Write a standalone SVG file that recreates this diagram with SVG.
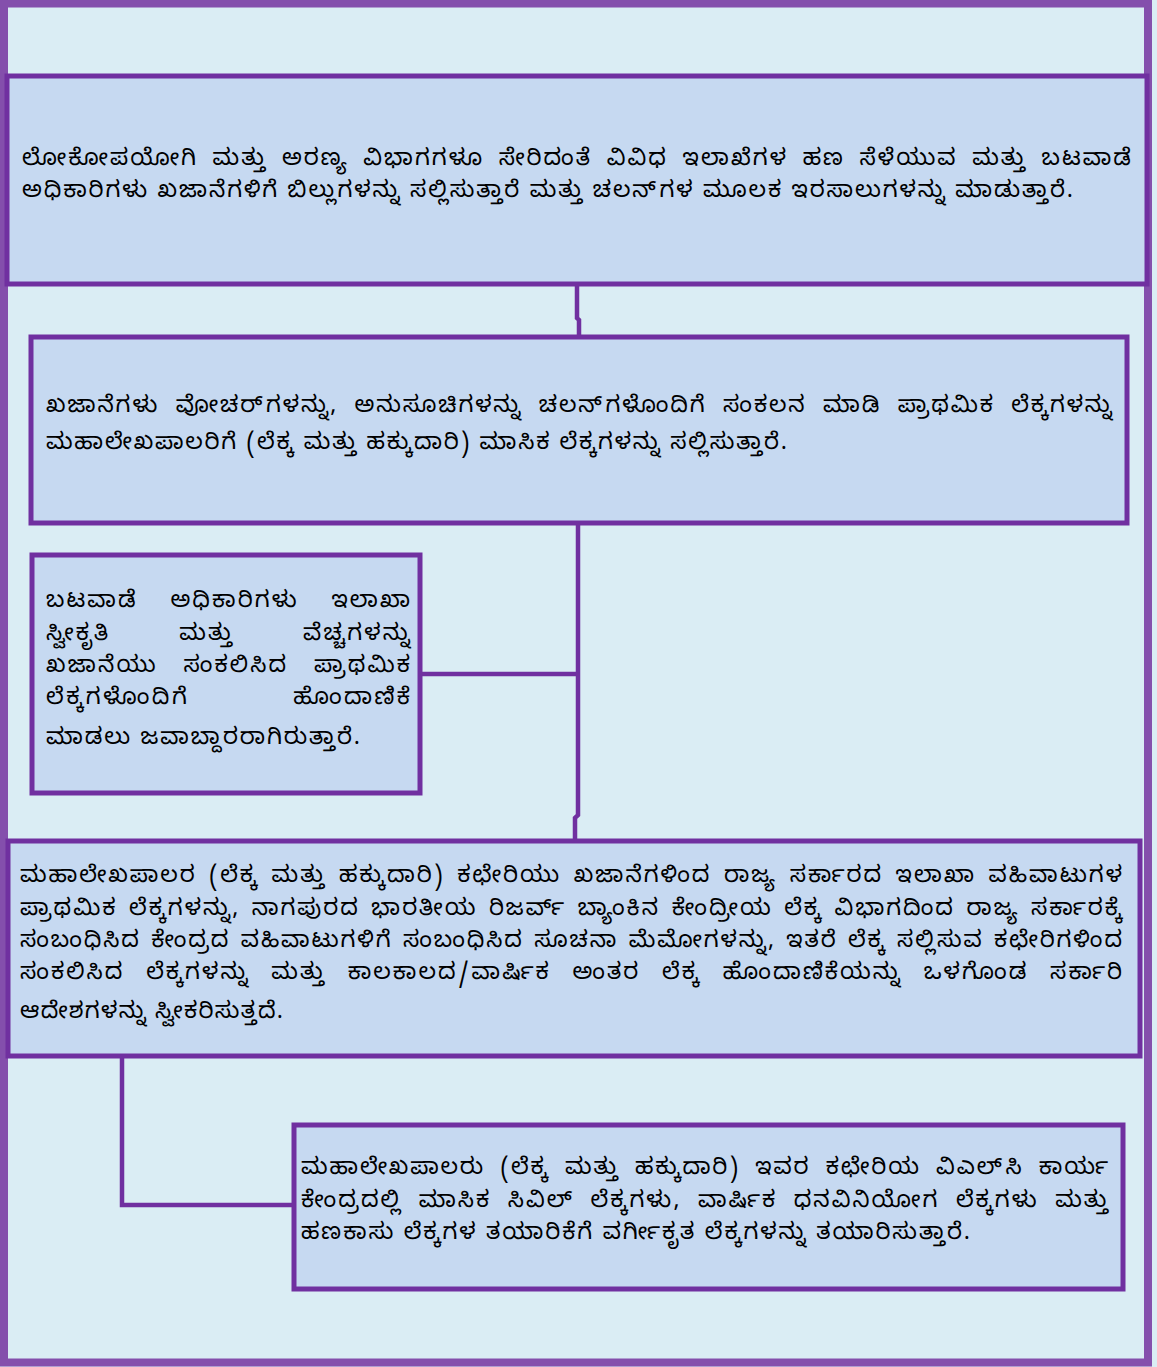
<svg xmlns="http://www.w3.org/2000/svg" width="1157" height="1367" viewBox="0 0 1157 1367">
<style>
.bg{fill:#daedf4}
.frame{fill:none;stroke:#844fac;stroke-width:8}
.box{fill:#c6d9f1;stroke:#7030a0;stroke-width:5}
.con{fill:none;stroke:#7030a0;stroke-width:4.5}
.t{font-family:"Noto Sans Kannada","Lohit Kannada","Tunga","Noto Sans",sans-serif;font-size:23px;fill:#000}
</style>
<rect class="bg" x="0" y="0" width="1157" height="1367"/>
<rect class="frame" x="4" y="3.5" width="1144" height="1359"/>
<g id="connectors">
<path class="con" d="M577,286 V318 L579,320 V336"/>
<path class="con" d="M578,523 V815 L575,818 V840"/>
<path class="con" d="M420,674 H578"/>
<path class="con" d="M122,1056 V1205 H294"/>
</g>
<g id="n1">
<rect class="box" x="7" y="76" width="1140" height="208"/>
<text class="t" x="22" y="165" style="word-spacing:6px" textLength="1109" lengthAdjust="spacing">ಲೋಕೋಪಯೋಗಿ ಮತ್ತು ಅರಣ್ಯ ವಿಭಾಗಗಳೂ ಸೇರಿದಂತೆ ವಿವಿಧ ಇಲಾಖೆಗಳ ಹಣ ಸೆಳೆಯುವ ಮತ್ತು ಬಟವಾಡೆ</text>
<text class="t" x="22" y="197" textLength="1051" lengthAdjust="spacing">ಅಧಿಕಾರಿಗಳು ಖಜಾನೆಗಳಿಗೆ ಬಿಲ್ಲುಗಳನ್ನು ಸಲ್ಲಿಸುತ್ತಾರೆ ಮತ್ತು ಚಲನ್&#x200C;ಗಳ ಮೂಲಕ ಇರಸಾಲುಗಳನ್ನು ಮಾಡುತ್ತಾರೆ.</text>
</g>
<g id="n2">
<rect class="box" x="31" y="337" width="1096" height="186"/>
<text class="t" x="46" y="412" style="word-spacing:8px" textLength="1066" lengthAdjust="spacing">ಖಜಾನೆಗಳು ವೋಚರ್&#x200C;ಗಳನ್ನು, ಅನುಸೂಚಿಗಳನ್ನು ಚಲನ್&#x200C;ಗಳೊಂದಿಗೆ ಸಂಕಲನ ಮಾಡಿ ಪ್ರಾಥಮಿಕ ಲೆಕ್ಕಗಳನ್ನು</text>
<text class="t" x="46" y="449" textLength="741" lengthAdjust="spacing">ಮಹಾಲೇಖಪಾಲರಿಗೆ (ಲೆಕ್ಕ ಮತ್ತು ಹಕ್ಕುದಾರಿ) ಮಾಸಿಕ ಲೆಕ್ಕಗಳನ್ನು ಸಲ್ಲಿಸುತ್ತಾರೆ.</text>
</g>
<g id="n3">
<rect class="box" x="32" y="555" width="388" height="238"/>
<text class="t" x="46" y="607" style="word-spacing:24px" textLength="364" lengthAdjust="spacing">ಬಟವಾಡೆ ಅಧಿಕಾರಿಗಳು ಇಲಾಖಾ</text>
<text class="t" x="46" y="640" style="word-spacing:60px" textLength="364" lengthAdjust="spacing">ಸ್ವೀಕೃತಿ ಮತ್ತು ವೆಚ್ಚಗಳನ್ನು</text>
<text class="t" x="46" y="672" style="word-spacing:17px" textLength="364" lengthAdjust="spacing">ಖಜಾನೆಯು ಸಂಕಲಿಸಿದ ಪ್ರಾಥಮಿಕ</text>
<text class="t" x="46" y="704" style="word-spacing:95px" textLength="364" lengthAdjust="spacing">ಲೆಕ್ಕಗಳೊಂದಿಗೆ ಹೊಂದಾಣಿಕೆ</text>
<text class="t" x="46" y="744" textLength="314" lengthAdjust="spacing">ಮಾಡಲು ಜವಾಬ್ದಾರರಾಗಿರುತ್ತಾರೆ.</text>
</g>
<g id="n4">
<rect class="box" x="8" y="841" width="1132" height="215"/>
<text class="t" x="20" y="882" style="word-spacing:4px" textLength="1102" lengthAdjust="spacing">ಮಹಾಲೇಖಪಾಲರ (ಲೆಕ್ಕ ಮತ್ತು ಹಕ್ಕುದಾರಿ) ಕಛೇರಿಯು ಖಜಾನೆಗಳಿಂದ ರಾಜ್ಯ ಸರ್ಕಾರದ ಇಲಾಖಾ ವಹಿವಾಟುಗಳ</text>
<text class="t" x="20" y="915" style="word-spacing:3px" textLength="1102" lengthAdjust="spacing">ಪ್ರಾಥಮಿಕ ಲೆಕ್ಕಗಳನ್ನು, ನಾಗಪುರದ ಭಾರತೀಯ ರಿಜರ್ವ್ ಬ್ಯಾಂಕಿನ ಕೇಂದ್ರೀಯ ಲೆಕ್ಕ ವಿಭಾಗದಿಂದ ರಾಜ್ಯ ಸರ್ಕಾರಕ್ಕೆ</text>
<text class="t" x="20" y="947" style="word-spacing:2px" textLength="1102" lengthAdjust="spacing">ಸಂಬಂಧಿಸಿದ ಕೇಂದ್ರದ ವಹಿವಾಟುಗಳಿಗೆ ಸಂಬಂಧಿಸಿದ ಸೂಚನಾ ಮೆಮೋಗಳನ್ನು, ಇತರೆ ಲೆಕ್ಕ ಸಲ್ಲಿಸುವ ಕಛೇರಿಗಳಿಂದ</text>
<text class="t" x="20" y="979" style="word-spacing:13px" textLength="1102" lengthAdjust="spacing">ಸಂಕಲಿಸಿದ ಲೆಕ್ಕಗಳನ್ನು ಮತ್ತು ಕಾಲಕಾಲದ/ವಾರ್ಷಿಕ ಅಂತರ ಲೆಕ್ಕ ಹೊಂದಾಣಿಕೆಯನ್ನು ಒಳಗೊಂಡ ಸರ್ಕಾರಿ</text>
<text class="t" x="20" y="1018" textLength="263" lengthAdjust="spacing">ಆದೇಶಗಳನ್ನು ಸ್ವೀಕರಿಸುತ್ತದೆ.</text>
</g>
<g id="n5">
<rect class="box" x="294" y="1125" width="829" height="164"/>
<text class="t" x="301" y="1174" style="word-spacing:7px" textLength="807" lengthAdjust="spacing">ಮಹಾಲೇಖಪಾಲರು (ಲೆಕ್ಕ ಮತ್ತು ಹಕ್ಕುದಾರಿ) ಇವರ ಕಛೇರಿಯ ವಿಎಲ್&#x200C;ಸಿ ಕಾರ್ಯ</text>
<text class="t" x="301" y="1207" style="word-spacing:8px" textLength="807" lengthAdjust="spacing">ಕೇಂದ್ರದಲ್ಲಿ ಮಾಸಿಕ ಸಿವಿಲ್ ಲೆಕ್ಕಗಳು, ವಾರ್ಷಿಕ ಧನವಿನಿಯೋಗ ಲೆಕ್ಕಗಳು ಮತ್ತು</text>
<text class="t" x="301" y="1239" textLength="669" lengthAdjust="spacing">ಹಣಕಾಸು ಲೆಕ್ಕಗಳ ತಯಾರಿಕೆಗೆ ವರ್ಗೀಕೃತ ಲೆಕ್ಕಗಳನ್ನು ತಯಾರಿಸುತ್ತಾರೆ.</text>
</g>
</svg>
